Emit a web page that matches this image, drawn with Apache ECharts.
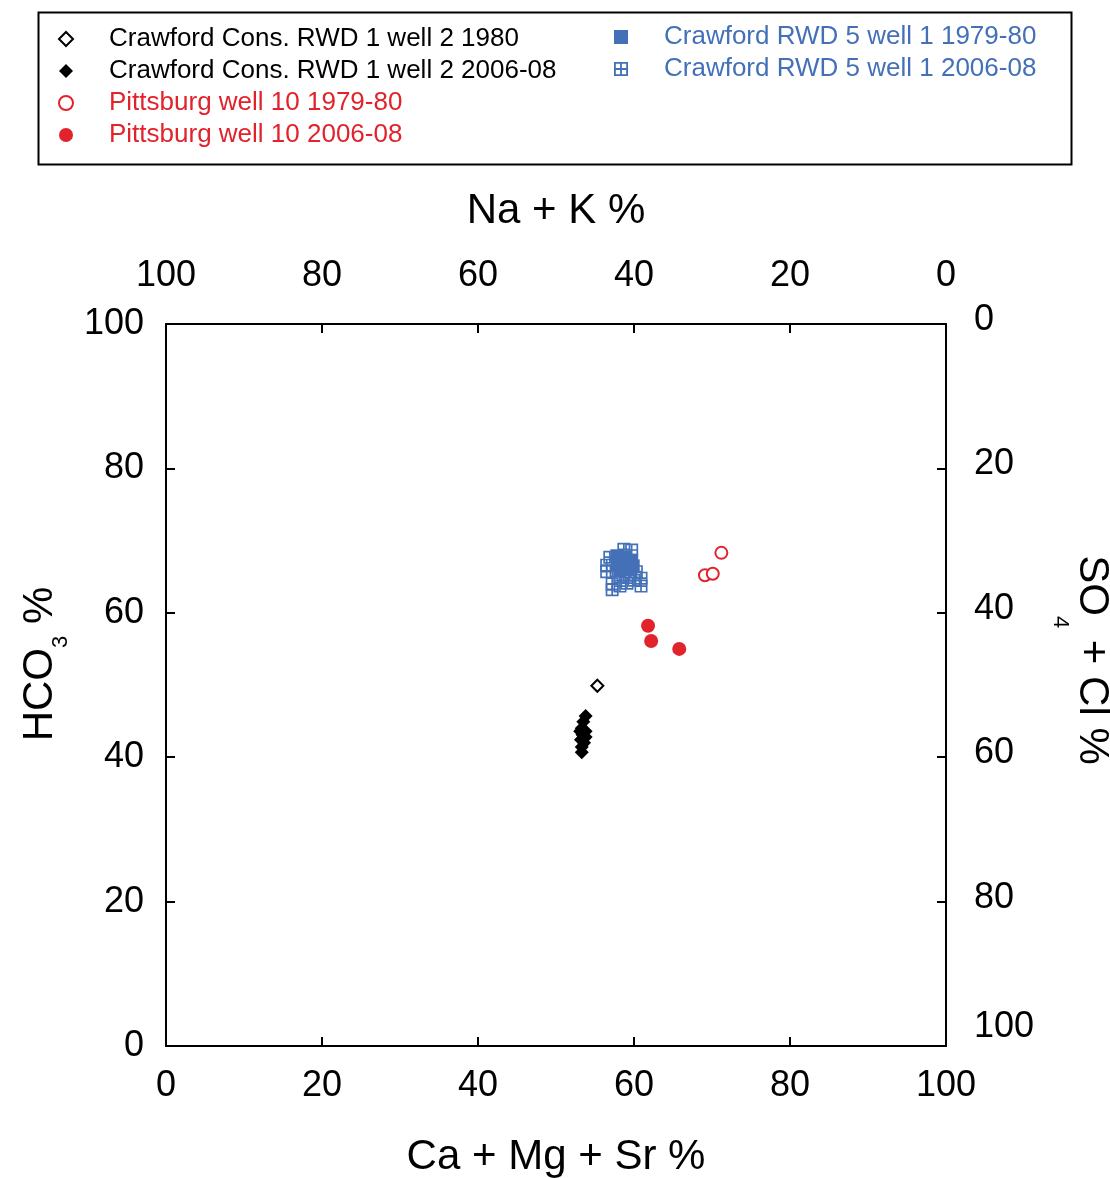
<!DOCTYPE html>
<html>
<head>
<meta charset="utf-8">
<script src="https://cdn.jsdelivr.net/npm/echarts@6/dist/echarts.min.js"></script>
<style>
html,body{margin:0;padding:0;background:#fff;overflow:hidden;}
#chart{width:1110px;height:1178px;}
</style>
</head>
<body>
<div id="chart"></div>
<script>
// ---- Data (x = Ca + Mg + Sr %, y = HCO3 %) ----
var axisTicks = [0, 20, 40, 60, 80, 100];
var seriesNames = [
  'Crawford Cons. RWD 1 well 2 1980',
  'Crawford Cons. RWD 1 well 2 2006-08',
  'Pittsburg well 10 1979-80',
  'Pittsburg well 10 2006-08',
  'Crawford RWD 5 well 1 1979-80',
  'Crawford RWD 5 well 1 2006-08'
];
var crawCons1980 = [[55.3, 49.9]];
var crawCons2006 = [
  [53.8, 45.7], [53.5, 44.9], [53.3, 44.0], [53.8, 43.6], [53.4, 43.1], [53.8, 42.8],
  [53.2, 42.4], [53.6, 42.0], [53.3, 41.4], [53.3, 40.7], [53.1, 43.6], [53.5, 42.6]
];
var pitt1979 = [[71.2, 68.3], [69.1, 65.2], [70.1, 65.4]];
var pitt2006 = [[61.8, 58.2], [62.2, 56.1], [65.8, 55.0]];
var craw5_2006 = [
  [58.7, 68.8], [59.7, 68.7], [56.9, 67.7], [56.5, 66.6], [56.5, 65.7], [57.2, 64.0],
  [57.2, 63.2], [58.2, 63.7], [59.1, 64.1], [60.0, 64.5], [60.9, 64.8], [60.9, 63.7],
  [60.3, 65.7], [59.4, 65.2], [58.2, 65.0], [57.7, 65.8]
];
var craw5_1979 = [
  [57.8, 67.9], [58.8, 67.7], [59.7, 67.3], [57.9, 66.8], [59.0, 66.6], [59.9, 66.5],
  [58.2, 65.9], [59.2, 66.1]
];

// ---- Styles ----
var RED = '#e1232b';
var BLUE = '#4470b7';
var BLACK = '#000';
var FONT = 'Liberation Sans, Arial, sans-serif';
var gridSquare = 'path://M0 0H10V10H0Z M1.3 1.3V4.35H4.35V1.3Z M5.65 1.3V4.35H8.7V1.3Z M1.3 5.65V8.7H4.35V5.65Z M5.65 5.65V8.7H8.7V5.65Z';

var chart = echarts.init(document.getElementById('chart'), null, {renderer: 'canvas'});

var lineStyle = {color: BLACK, width: 2};
function baseAxis(extra) {
  var a = {
    type: 'value', min: 0, max: 100, interval: 20,
    axisLine: {show: true, onZero: false, lineStyle: lineStyle},
    axisTick: {show: true, inside: true, length: 9, lineStyle: lineStyle},
    splitLine: {show: false},
    nameTextStyle: {fontFamily: FONT, fontSize: 42, color: BLACK},
    axisLabel: {fontFamily: FONT, fontSize: 36, color: BLACK}
  };
  for (var k in extra) a[k] = extra[k];
  return a;
}

var legendText = {fontFamily: FONT, fontSize: 26, lineHeight: 24, padding: [0, 0, 0, 31]};

var option = {
  backgroundColor: '#fff',
  animation: false,
  grid: {left: 166, top: 324, right: 164, bottom: 132, containLabel: false, outerBoundsMode: 'none'},
  graphic: [{
    type: 'rect', left: 36, top: 10, z: 100,
    shape: {width: 1033, height: 152},
    style: {fill: 'none', stroke: BLACK, lineWidth: 2}
  }],
  legend: [{
    left: 58, top: 26, orient: 'vertical', padding: 0,
    itemWidth: 14, itemHeight: 14, itemGap: 6,
    textStyle: legendText,
    data: [
      {name: seriesNames[0], textStyle: {color: BLACK}},
      {name: seriesNames[1], textStyle: {color: BLACK}},
      {name: seriesNames[2], textStyle: {color: RED}},
      {name: seriesNames[3], textStyle: {color: RED}}
    ]
  }, {
    left: 614, top: 24, orient: 'vertical', padding: 0,
    itemWidth: 14, itemHeight: 14, itemGap: 6,
    textStyle: legendText,
    data: [
      {name: seriesNames[4], textStyle: {color: BLUE}},
      {name: seriesNames[5], textStyle: {color: BLUE}}
    ]
  }],
  xAxis: [
    baseAxis({
      position: 'bottom', name: 'Ca + Mg + Sr %', nameLocation: 'middle', nameGap: 90,
      axisLabel: {fontFamily: FONT, fontSize: 36, color: BLACK, margin: 22}
    }),
    baseAxis({
      position: 'top', inverse: true, name: 'Na + K %', nameLocation: 'middle', nameGap: 92,
      axisLabel: {fontFamily: FONT, fontSize: 36, color: BLACK, margin: 30}
    })
  ],
  yAxis: [
    baseAxis({
      position: 'left', name: 'HCO{s|3} %', nameLocation: 'middle', nameGap: 94, nameRotate: 90,
      nameTextStyle: {
        fontFamily: FONT, fontSize: 42, color: BLACK, padding: [0, 0, 0, 42],
        rich: {s: {fontFamily: FONT, fontSize: 22, color: BLACK, padding: [42, 0, 0, 0]}}
      },
      axisLabel: {fontFamily: FONT, fontSize: 36, color: BLACK, margin: 22, padding: [0, 0, 16, 0]}
    }),
    baseAxis({
      position: 'right', inverse: true, name: 'SO{s|4} + Cl %', nameLocation: 'middle', nameGap: 103, nameRotate: -90,
      nameTextStyle: {
        fontFamily: FONT, fontSize: 42, color: BLACK, padding: [0, 50, 0, 0],
        rich: {s: {fontFamily: FONT, fontSize: 22, color: BLACK, padding: [64, 0, 0, 0]}}
      },
      axisLabel: {
        fontFamily: FONT, fontSize: 36, color: BLACK, margin: 28, padding: [0, 0, 8, 0],
        formatter: function (v) { return v === 100 ? '{u|100}' : String(v); },
        rich: {u: {fontFamily: FONT, fontSize: 36, color: BLACK, padding: [0, 0, 30, 0]}}
      }
    })
  ],
  series: [
    {
      name: seriesNames[4], type: 'scatter', xAxisIndex: 0, yAxisIndex: 0,
      symbol: 'rect', symbolSize: 13, data: craw5_1979,
      itemStyle: {color: BLUE, opacity: 1}
    },
    {
      name: seriesNames[5], type: 'scatter', xAxisIndex: 0, yAxisIndex: 0,
      symbol: gridSquare, symbolSize: 13, data: craw5_2006,
      itemStyle: {color: BLUE, opacity: 1}
    },
    {
      name: seriesNames[0], type: 'scatter', xAxisIndex: 0, yAxisIndex: 0,
      symbol: 'diamond', symbolSize: 12, data: crawCons1980,
      itemStyle: {color: '#fff', borderColor: BLACK, borderWidth: 2, opacity: 1}
    },
    {
      name: seriesNames[1], type: 'scatter', xAxisIndex: 0, yAxisIndex: 0,
      symbol: 'diamond', symbolSize: 14, data: crawCons2006,
      itemStyle: {color: BLACK, opacity: 1}
    },
    {
      name: seriesNames[2], type: 'scatter', xAxisIndex: 0, yAxisIndex: 0,
      symbol: 'circle', symbolSize: 12, data: pitt1979,
      itemStyle: {color: '#fff', borderColor: RED, borderWidth: 2, opacity: 1}
    },
    {
      name: seriesNames[3], type: 'scatter', xAxisIndex: 0, yAxisIndex: 0,
      symbol: 'circle', symbolSize: 14, data: pitt2006,
      itemStyle: {color: RED, opacity: 1}
    }
  ]
};
chart.setOption(option);
</script>
</body>
</html>
